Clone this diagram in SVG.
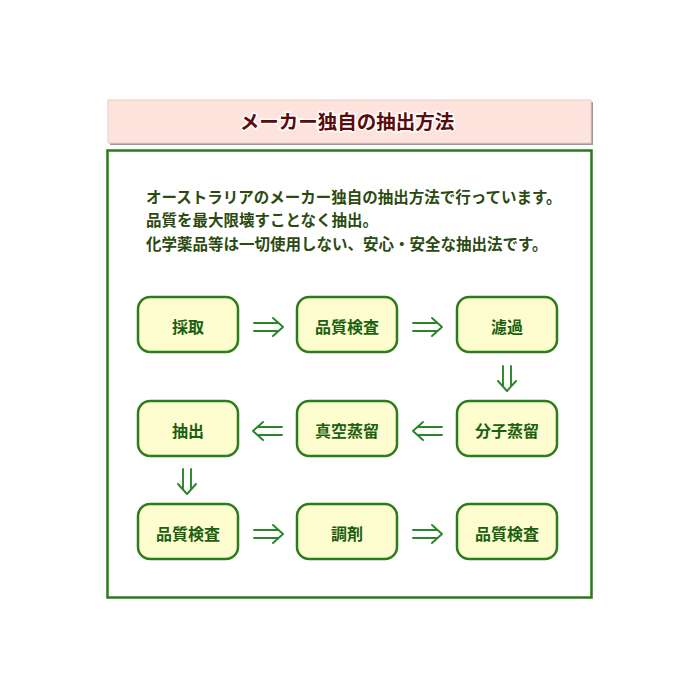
<svg xmlns="http://www.w3.org/2000/svg" width="700" height="700" viewBox="0 0 700 700">
<style>
.title{font-family:"Noto Sans CJK JP","Noto Sans",sans-serif;font-weight:bold;font-size:19.5px;fill:#5c0a0a;stroke:#ffffff;stroke-width:3px;paint-order:stroke;text-anchor:middle}
.para{font-family:"Noto Sans CJK JP","Noto Sans",sans-serif;font-weight:bold;font-size:15.5px;fill:#2b4a10}
.box{fill:#fdfdcf;stroke:#2a7d1a;stroke-width:2.5}
.lbl{font-family:"Noto Sans CJK JP","Noto Sans",sans-serif;font-weight:bold;font-size:16px;fill:#1a6010;text-anchor:middle}
.arr{fill:none;stroke:#2a852a;stroke-width:1.9;stroke-linecap:round;stroke-linejoin:round}
</style>
<rect width="700" height="700" fill="#ffffff"/>
<g id="title">
<rect x="110" y="102" width="483" height="43" fill="#9a9a9a"/>
<rect x="108" y="100" width="483" height="43" fill="#fde3dc" stroke="#e8cfc8" stroke-width="1"/>
<text class="title" x="347" y="129">メーカー独自の抽出方法</text>
</g>
<g id="panel">
<rect x="107.5" y="150.5" width="484" height="447" fill="#ffffff" stroke="#2a7a1a" stroke-width="2.5"/>
<text class="para" x="146" y="203">オーストラリアのメーカー独自の抽出方法で行っています。</text>
<text class="para" x="146" y="226">品質を最大限壊すことなく抽出。</text>
<text class="para" x="146" y="250">化学薬品等は一切使用しない、安心・安全な抽出法です。</text>
</g>
<g id="n1"><rect class="box" x="138" y="297" width="100" height="55" rx="12"/><text class="lbl" x="188" y="333">採取</text></g>
<g id="n2"><rect class="box" x="297" y="297" width="100" height="55" rx="12"/><text class="lbl" x="347" y="333">品質検査</text></g>
<g id="n3"><rect class="box" x="457" y="297" width="100" height="55" rx="12"/><text class="lbl" x="507" y="333">濾過</text></g>
<g id="n4"><rect class="box" x="457" y="401" width="100" height="55" rx="12"/><text class="lbl" x="507" y="437">分子蒸留</text></g>
<g id="n5"><rect class="box" x="297" y="401" width="100" height="55" rx="12"/><text class="lbl" x="347" y="437">真空蒸留</text></g>
<g id="n6"><rect class="box" x="138" y="401" width="100" height="55" rx="12"/><text class="lbl" x="188" y="437">抽出</text></g>
<g id="n7"><rect class="box" x="138" y="504" width="100" height="55" rx="12"/><text class="lbl" x="188" y="540">品質検査</text></g>
<g id="n8"><rect class="box" x="297" y="504" width="100" height="55" rx="12"/><text class="lbl" x="347" y="540">調剤</text></g>
<g id="n9"><rect class="box" x="457" y="504" width="100" height="55" rx="12"/><text class="lbl" x="507" y="540">品質検査</text></g>
<g id="connectors">
<path class="arr" d="M254,323 H278 M254,331 H278 M273,318 L283,327 L273,336"/>
<path class="arr" d="M413,323 H437 M413,331 H437 M432,318 L442,327 L432,336"/>
<path class="arr" d="M503,366 V386 M511,366 V386 M498,381 L507,391 L516,381"/>
<path class="arr" d="M442,427 H418 M442,435 H418 M423,422 L413,431 L423,440"/>
<path class="arr" d="M282,427 H258 M282,435 H258 M263,422 L253,431 L263,440"/>
<path class="arr" d="M183,469 V489 M191,469 V489 M178,484 L187,494 L196,484"/>
<path class="arr" d="M254,530 H278 M254,538 H278 M273,525 L283,534 L273,543"/>
<path class="arr" d="M413,530 H437 M413,538 H437 M432,525 L442,534 L432,543"/>
</g>
</svg>
